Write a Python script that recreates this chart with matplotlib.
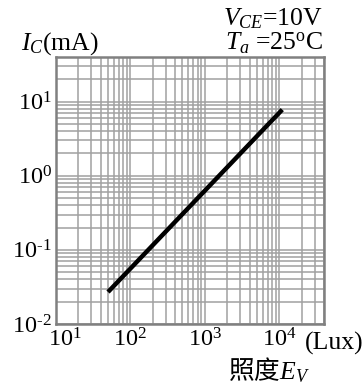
import matplotlib
matplotlib.use('Agg')
import matplotlib.pyplot as plt
import matplotlib.transforms as mtransforms
from matplotlib.ticker import LogLocator, NullFormatter, FixedLocator

plt.rcParams['font.family'] = ['Liberation Serif', 'DejaVu Serif']
plt.rcParams['mathtext.fontset'] = 'custom'
plt.rcParams['mathtext.rm'] = 'Liberation Serif'
plt.rcParams['mathtext.it'] = 'Liberation Serif:italic'

# illuminance (lux) vs collector current (mA)
lux = [50, 11000]
ic_ma = [0.027, 7.8]

x_ticks = [1e1, 1e2, 1e3, 1e4]
x_labels = [r'$\mathregular{10^{1}}$', r'$\mathregular{10^{2}}$',
            r'$\mathregular{10^{3}}$', r'$\mathregular{10^{4}}$']
y_ticks = [1e-2, 1e-1, 1e0, 1e1]
y_labels = ['$\\mathregular{10^{\u2010 2}}$', '$\\mathregular{10^{\u2010 1}}$',
            r'$\mathregular{10^{0}}$', r'$\mathregular{10^{1}}$']

W, H = 364, 385
fig = plt.figure(figsize=(W / 100, H / 100), dpi=100)
ax = fig.add_axes([56 / W, 1 - 324 / H, 268 / W, 267 / H])

ax.plot(lux, ic_ma, color='black', lw=3.2, solid_capstyle='butt', zorder=3)

ax.set_xscale('log')
ax.set_yscale('log')
ax.set_xlim(10, 4e4)
ax.set_ylim(1e-2, 40)

ax.xaxis.set_major_locator(FixedLocator(x_ticks))
ax.set_xticklabels(x_labels)
ax.yaxis.set_major_locator(FixedLocator(y_ticks))
ax.set_yticklabels(y_labels)
ax.xaxis.set_minor_locator(LogLocator(base=10, subs=range(2, 10), numticks=100))
ax.yaxis.set_minor_locator(LogLocator(base=10, subs=range(2, 10), numticks=100))
ax.xaxis.set_minor_formatter(NullFormatter())
ax.yaxis.set_minor_formatter(NullFormatter())

ax.grid(True, which='both', color='#a0a0a0', lw=1.1)
ax.tick_params(which='both', length=0, labelsize=17.5)
ax.tick_params(axis='x', pad=3)
ax.tick_params(axis='y', pad=3)
for s in ax.spines.values():
    s.set_color('#808080')
    s.set_linewidth(1.8)

# first x label sits a bit right of its gridline in the original
lbl = ax.get_xticklabels()[0]
lbl.set_transform(lbl.get_transform() +
                  mtransforms.ScaledTranslation(9 / 100, 0, fig.dpi_scale_trans))

fig.text(21 / W, 1 - 50 / H, r'$I_C$(mA)', fontsize=18.5, va='baseline')
fig.text(323 / W, 1 - 25 / H, r'$V_{CE}$=10V', fontsize=18.5, ha='right', va='baseline')
fig.text(323 / W, 1 - 50 / H, r'$T_a$ =25$^\mathregular{o}$C', fontsize=18.5, ha='right', va='baseline')
fig.text(363 / W, 1 - 350 / H, '(Lux)', fontsize=18.5, ha='right', va='baseline')
fig.text(228 / W, 1 - 379 / H, r'照度$E_V$', fontsize=18.5, va='baseline',
         family=['Noto Sans CJK SC', 'DejaVu Sans'])

fig.savefig('out.png', dpi=100)
